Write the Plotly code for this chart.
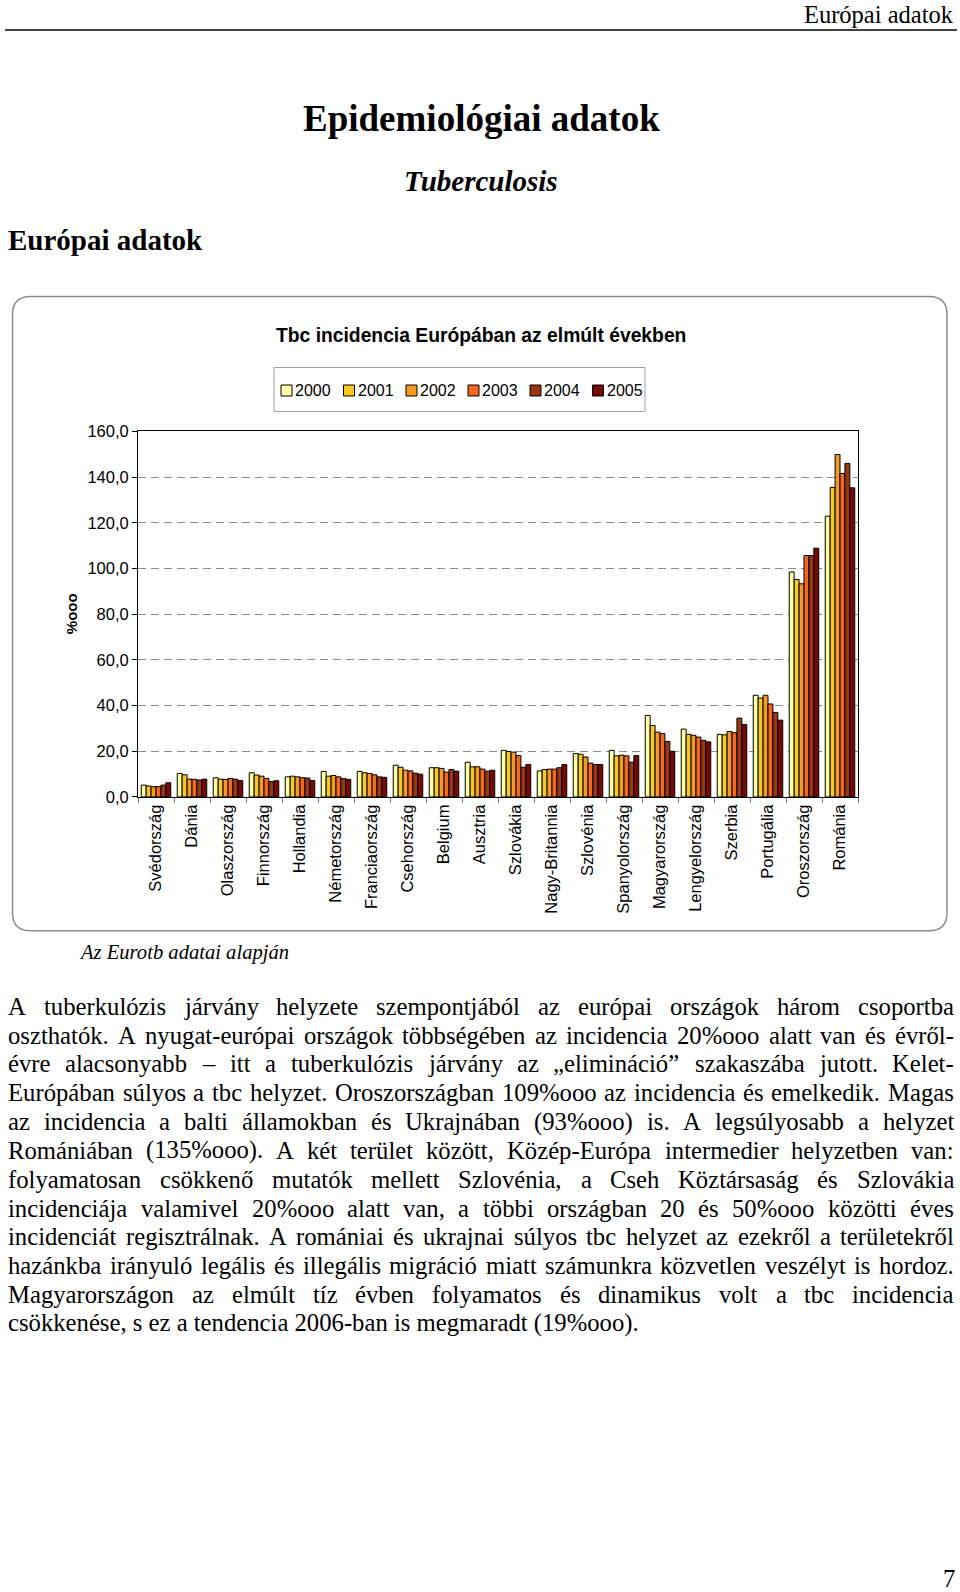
import plotly.graph_objects as go

# ---------------- data ----------------
countries = ["Svédország", "Dánia", "Olaszország", "Finnország", "Hollandia",
             "Németország", "Franciaország", "Csehország", "Belgium", "Ausztria",
             "Szlovákia", "Nagy-Britannia", "Szlovénia", "Spanyolország",
             "Magyarország", "Lengyelország", "Szerbia", "Portugália",
             "Oroszország", "Románia"]
years = ["2000", "2001", "2002", "2003", "2004", "2005"]

v2000 = [5.2, 10.3, 8.4, 10.6, 8.8, 11.2, 11.2, 13.9, 12.8, 15.2, 20.4, 11.4, 19.0, 20.4, 35.7, 29.7, 27.4, 44.5, 98.5, 122.9]
v2001 = [4.8, 9.7, 7.8, 9.6, 9.1, 9.1, 10.6, 13.0, 12.8, 13.2, 19.9, 12.0, 18.7, 18.0, 31.3, 27.4, 27.2, 43.3, 95.2, 135.5]
v2002 = [4.5, 7.8, 7.7, 9.1, 8.8, 9.4, 10.3, 11.7, 12.5, 13.2, 19.6, 12.2, 17.5, 18.3, 28.4, 27.0, 28.6, 44.5, 93.3, 149.9]
v2003 = [4.5, 7.7, 8.1, 8.1, 8.4, 8.8, 9.7, 11.4, 10.9, 12.2, 18.1, 12.2, 14.8, 18.0, 27.7, 26.2, 28.1, 40.7, 105.7, 141.6]
v2004 = [5.2, 7.4, 7.8, 6.7, 8.3, 8.0, 8.8, 10.4, 12.0, 11.3, 13.0, 12.8, 14.2, 15.2, 24.3, 24.8, 34.5, 37.0, 105.7, 146.0]
v2005 = [6.2, 7.8, 7.2, 7.1, 7.2, 7.7, 8.6, 10.0, 11.3, 11.7, 14.2, 14.2, 14.2, 18.1, 20.0, 24.1, 31.7, 33.6, 108.9, 135.3]
series = [v2000, v2001, v2002, v2003, v2004, v2005]

colors = ["#FFFFA6", "#F8C81E", "#F7981F", "#F2661E", "#9A3710", "#760A06"]

y_ticks = [0, 20, 40, 60, 80, 100, 120, 140, 160]

paragraph = [
    "A tuberkulózis járvány helyzete szempontjából az európai országok három csoportba",
    "oszthatók. A nyugat-európai országok többségében az incidencia 20%ooo alatt van és évről-",
    "évre alacsonyabb – itt a tuberkulózis járvány az „elimináció” szakaszába jutott. Kelet-",
    "Európában súlyos a tbc helyzet. Oroszországban 109%ooo az incidencia és emelkedik. Magas",
    "az incidencia a balti államokban és Ukrajnában (93%ooo) is. A legsúlyosabb a helyzet",
    "Romániában (135%ooo). A két terület között, Közép-Európa intermedier helyzetben van:",
    "folyamatosan csökkenő mutatók mellett Szlovénia, a Cseh Köztársaság és Szlovákia",
    "incidenciája valamivel 20%ooo alatt van, a többi országban 20 és 50%ooo közötti éves",
    "incidenciát regisztrálnak. A romániai és ukrajnai súlyos tbc helyzet az ezekről a területekről",
    "hazánkba irányuló legális és illegális migráció miatt számunkra közvetlen veszélyt is hordoz.",
    "Magyarországon az elmúlt tíz évben folyamatos és dinamikus volt a tbc incidencia",
    "csökkenése, s ez a tendencia 2006-ban is megmaradt (19%ooo).",
]

# ---------------- helpers ----------------
W, H = 960, 1592
SERIF = "Liberation Serif, Times New Roman, serif"
SANS = "Liberation Sans, Arial, sans-serif"


def px(x):
    return x / W


def py(y):
    # compensate the vertical offset/scale seen in the rendered page
    yy = (y - 8.0) / 0.99
    return 1 - yy / H


TW = {' ': 250, '.': 250, ',': 250, ':': 278, '-': 333, '–': 500, '%': 833,
      '(': 333, ')': 333, '„': 444, '”': 444}
for ch, w in zip("abcdefghijklmnopqrstuvwxyz",
                 [444, 500, 444, 500, 444, 333, 500, 500, 278, 278, 500, 278, 778,
                  500, 500, 500, 500, 333, 389, 278, 500, 500, 722, 500, 500, 444]):
    TW[ch] = w
for ch, w in zip("ABCDEFGHIJKLMNOPQRSTUVWXYZ",
                 [722, 667, 667, 722, 611, 556, 722, 722, 333, 389, 722, 611, 889,
                  722, 722, 556, 722, 667, 556, 611, 722, 722, 944, 722, 722, 611]):
    TW[ch] = w
for ch in "0123456789":
    TW[ch] = 500
TW.update({'á': 444, 'é': 444, 'í': 278, 'ó': 500, 'ö': 500, 'ő': 500, 'ú': 500,
           'ü': 500, 'ű': 500, 'É': 611, 'Ö': 722, 'Ő': 722, 'Ü': 722})


def text_w(s, size):
    return sum(TW.get(c, 500) for c in s) / 1000.0 * size


annotations = []
shapes = []


def ann(text, x, y, size, family=SERIF, xanchor="center", yanchor="middle",
        angle=0, color="black"):
    annotations.append(dict(
        text=text, x=px(x), y=py(y), xref="paper", yref="paper",
        xanchor=xanchor, yanchor=yanchor, showarrow=False, textangle=angle,
        borderpad=0, borderwidth=0,
        font=dict(family=family, size=size, color=color)))


# ---------------- figure ----------------
fig = go.Figure()
for yr, vals, col in zip(years, series, colors):
    fig.add_trace(go.Bar(
        x=countries, y=vals, name=yr, showlegend=False,
        marker=dict(color=col, line=dict(color="black", width=1))))

# page header
ann("Európai adatok", 954, 14, 24.5, xanchor="right")
shapes.append(dict(type="line", xref="paper", yref="paper",
                   x0=px(5), x1=px(957), y0=py(29), y1=py(29),
                   line=dict(color="black", width=1.5)))
ann("<b>Epidemiológiai adatok</b>", 481, 118, 37)
ann("<b><i>Tuberculosis</i></b>", 481, 180, 29)
ann("<b>Európai adatok</b>", 8, 239, 29, xanchor="left")

# chart frame (rounded)
x0, x1, y0, y1, r = 12.5, 947, 296, 931, 18
P = lambda x, y: f"{px(x):.5f},{py(y):.5f}"
path = (f"M {P(x0 + r, y0)} L {P(x1 - r, y0)} Q {P(x1, y0)} {P(x1, y0 + r)} "
        f"L {P(x1, y1 - r)} Q {P(x1, y1)} {P(x1 - r, y1)} "
        f"L {P(x0 + r, y1)} Q {P(x0, y1)} {P(x0, y1 - r)} "
        f"L {P(x0, y0 + r)} Q {P(x0, y0)} {P(x0 + r, y0)} Z")
shapes.append(dict(type="path", xref="paper", yref="paper", path=path,
                   line=dict(color="#8C8C8C", width=1.5), layer="below"))

ann("<b>Tbc incidencia Európában az elmúlt években</b>", 481, 335, 19.3, family=SANS)

# legend (custom)
shapes.append(dict(type="rect", xref="paper", yref="paper",
                   x0=px(274), x1=px(645), y0=py(367), y1=py(411),
                   line=dict(color="#A0A0A0", width=1), fillcolor="white", layer="below"))
leg_x = [281, 343.5, 406, 468, 530, 592.5]
for lx, yr, col in zip(leg_x, years, colors):
    shapes.append(dict(type="rect", xref="paper", yref="paper",
                       x0=px(lx), x1=px(lx + 11), y0=py(384.5), y1=py(395.5),
                       line=dict(color="black", width=1), fillcolor=col))
    ann(yr, lx + 14, 390, 16, family=SANS, xanchor="left")

# y axis title
ann("<b>%ooo</b>", 71, 614, 15, family=SANS, angle=-90)

# source note
ann("<i>Az Eurotb adatai alapján</i>", 79, 953, 20.6, xanchor="left")

# justified paragraph
FS = 24.7
L, R = 8, 954
for i, line in enumerate(paragraph):
    yy = 1006.5 + i * 28.87
    if i == len(paragraph) - 1:
        ann(line, L, yy, FS, xanchor="left")
        continue
    words = line.split(" ")
    widths = [text_w(w, FS) for w in words]
    gap = (R - L - sum(widths)) / (len(words) - 1)
    xx = L
    for w, ww in zip(words, widths):
        ann(w, xx, yy, FS, xanchor="left")
        xx += ww + gap

# page number
ann("7", 949, 1580, 24.7)

fig.update_layout(
    width=W, height=H, margin=dict(l=0, r=0, t=0, b=0),
    paper_bgcolor="white", plot_bgcolor="white",
    barmode="group", bargap=0.18, bargroupgap=0,
    separators=", ",
    showlegend=False,
    annotations=annotations, shapes=shapes,
    xaxis=dict(domain=[px(138), px(858)], type="category",
               showline=True, linecolor="black", linewidth=1, mirror=True,
               ticks="outside", tickson="boundaries", ticklen=5, tickcolor="#7F7F7F",
               tickangle=-90, showgrid=False,
               tickfont=dict(family=SANS, size=16.5, color="black")),
    yaxis=dict(domain=[py(797), py(431)], range=[0, 160],
               tickmode="array", tickvals=y_ticks, tickformat=".1f",
               showline=True, linecolor="black", linewidth=1, mirror=True,
               ticks="outside", ticklen=5, tickcolor="black",
               showgrid=True, gridcolor="#8C8C8C", gridwidth=1, griddash="8px,5px",
               zeroline=False,
               tickfont=dict(family=SANS, size=16.5, color="black")),
)

fig.write_html("out.html")
